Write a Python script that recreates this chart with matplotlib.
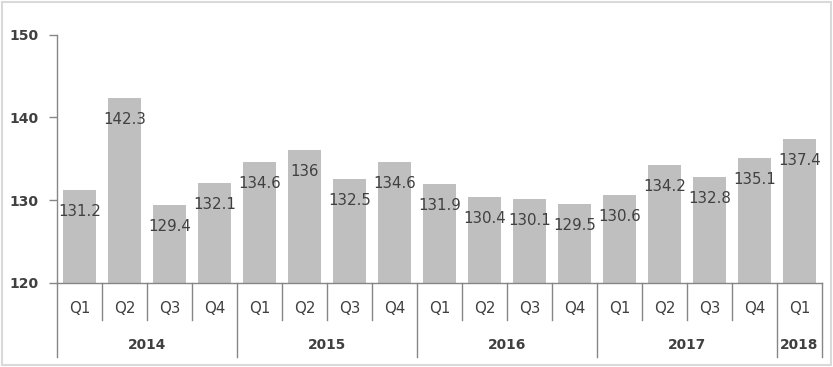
import matplotlib
matplotlib.use("Agg")
import matplotlib.pyplot as plt
from matplotlib.patches import Rectangle
import numpy as np

quarters = ["Q1", "Q2", "Q3", "Q4", "Q1", "Q2", "Q3", "Q4", "Q1", "Q2", "Q3", "Q4",
            "Q1", "Q2", "Q3", "Q4", "Q1"]
years = ["2014", "2015", "2016", "2017", "2018"]
year_counts = [4, 4, 4, 4, 1]
values = [131.2, 142.3, 129.4, 132.1, 134.6, 136, 132.5, 134.6, 131.9, 130.4, 130.1,
          129.5, 130.6, 134.2, 132.8, 135.1, 137.4]
yticks = [120, 130, 140, 150]

BAR = "#BFBFBF"
AX = "#868686"
TXT = "#404040"

fig = plt.figure(figsize=(8.33, 3.67), dpi=100)
ax = fig.add_axes([57 / 833, 1 - 282.7 / 367, (822 - 57) / 833, (282.7 - 34.6) / 367])

x = np.arange(len(values))
ax.bar(x, values, width=0.74, color=BAR, bottom=0)
ax.set_xlim(-0.5, len(values) - 0.5)
ax.set_ylim(120, 150)
ax.set_yticks(yticks)
ax.set_yticklabels([str(t) for t in yticks], fontsize=10, color=TXT, fontweight="bold")
ax.tick_params(axis="y", length=6, width=1, color=AX, pad=7.5, direction="out")
ax.set_xticks([])
for s in ["top", "right"]:
    ax.spines[s].set_visible(False)
for s in ["left", "bottom"]:
    ax.spines[s].set_color(AX)
    ax.spines[s].set_linewidth(1)

for xi, v in zip(x, values):
    lab = f"{v:g}"
    ax.annotate(lab, (xi, v), xytext=(0, -15.5), textcoords="offset points",
                ha="center", va="center", fontsize=10.8, color=TXT)

tr = ax.get_xaxis_transform()
q_len = -37 / 248.1
y_len = -74 / 248.1
for xi, q in zip(x, quarters):
    ax.text(xi, -26 / 248.1, q, transform=tr, ha="center", va="center",
            fontsize=10.8, color=TXT)
bounds = np.cumsum([0] + year_counts) - 0.5
for b in np.arange(-0.5, len(values)):
    ln = y_len if b in bounds else q_len
    ax.plot([b, b], [0, ln], transform=tr, color=AX, lw=1, clip_on=False)
for i, yr in enumerate(years):
    c = (bounds[i] + bounds[i + 1]) / 2
    ax.text(c, -62 / 248.1, yr, transform=tr, ha="center", va="center",
            fontsize=9.9, color=TXT, fontweight="bold")

fig.patches.append(Rectangle((2 / 833, 2 / 367), 829 / 833, 363 / 367,
                             transform=fig.transFigure, fill=False,
                             edgecolor="#D9D9D9", lw=1.5))
fig.savefig("out.png", dpi=100)
